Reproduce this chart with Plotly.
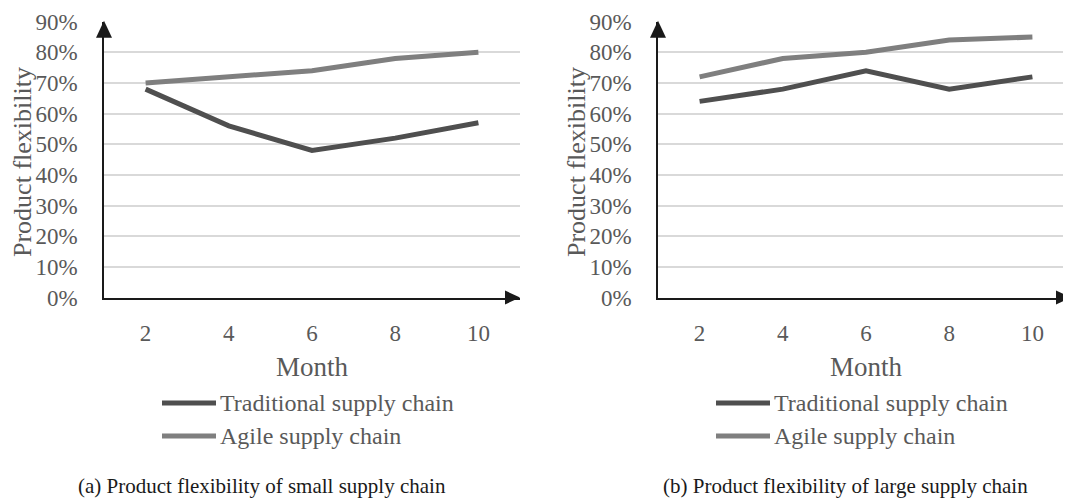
import plotly.graph_objects as go

months = ["2", "4", "6", "8", "10"]
small_traditional = [0.68, 0.56, 0.48, 0.52, 0.57]
small_agile = [0.70, 0.72, 0.74, 0.78, 0.80]
large_traditional = [0.64, 0.68, 0.74, 0.68, 0.72]
large_agile = [0.72, 0.78, 0.80, 0.84, 0.85]
series_names = ["Traditional supply chain", "Agile supply chain"]
captions = ["(a) Product flexibility of small supply chain",
            "(b) Product flexibility of large supply chain"]

# the page body has an 8px default margin; lay out in page pixels
OFF = 8
PAGE_W, PAGE_H = 1071, 499
W, H = PAGE_W - OFF, PAGE_H - OFF
def px(x): return (x - OFF) / W
def py(y): return 1 - (y - OFF) / H

C_TRAD = "#4f4f4f"
C_AGILE = "#7f7f7f"
TXT = "#595959"
FONT = "Liberation Serif"

fig = go.Figure()
panels = [
    ("x", "y", small_traditional, small_agile),
    ("x2", "y2", large_traditional, large_agile),
]
for xa, ya, trad, agile in panels:
    fig.add_trace(go.Scatter(x=months, y=trad, mode="lines", name=series_names[0],
                             line=dict(color=C_TRAD, width=5), xaxis=xa, yaxis=ya,
                             showlegend=False))
    fig.add_trace(go.Scatter(x=months, y=agile, mode="lines", name=series_names[1],
                             line=dict(color=C_AGILE, width=5), xaxis=xa, yaxis=ya,
                             showlegend=False))

y_top, y_bot = 21.7, 297.5
left_x = (104, 520)
right_x = (658, 1074)

yax = dict(range=[0, 0.9], dtick=0.1, tickformat=".0%", showgrid=True,
           gridcolor="#d9d9d9", gridwidth=1.5, zeroline=False, showline=True,
           linecolor="#1a1a1a", linewidth=1.5, ticks="", ticklabelstandoff=20,
           tickfont=dict(family=FONT, size=23, color=TXT), automargin=False,
           domain=[py(y_bot), py(y_top)], fixedrange=True)
xax = dict(type="category", range=[-0.5, 4.5], showgrid=False, zeroline=False,
           showline=True, automargin=False,
           linecolor="#1a1a1a", linewidth=1.5, ticks="", ticklabelstandoff=14,
           tickfont=dict(family=FONT, size=23, color=TXT), fixedrange=True)

cat_w = (right_x[1] - right_x[0]) / 5
fig.update_layout(
    width=W, height=H, margin=dict(l=0, r=0, t=0, b=0),
    paper_bgcolor="white", plot_bgcolor="white",
    xaxis=dict(xax, domain=[px(left_x[0]), px(left_x[1])], anchor="y"),
    yaxis=dict(yax, anchor="x"),
    xaxis2=dict(xax, domain=[px(right_x[0]), 1.0], anchor="y2",
                range=[-0.5, 4.5 - (right_x[1] - PAGE_W) / cat_w]),
    yaxis2=dict(yax, anchor="x2"),
    showlegend=False,
)

shapes = []
annotations = []
for i, (x0, x1) in enumerate([left_x, right_x]):
    # y-axis arrowhead
    shapes.append(dict(type="path", xref="paper", yref="paper",
                       path=f"M {px(x0-8)} {py(y_top+16)} L {px(x0+8)} {py(y_top+16)} L {px(x0)} {py(y_top-1)} Z",
                       fillcolor="#1a1a1a", line=dict(width=0)))
    # x-axis arrowhead
    tip = min(x1, PAGE_W)
    shapes.append(dict(type="path", xref="paper", yref="paper",
                       path=f"M {px(tip-15)} {py(y_bot-7)} L {px(tip-15)} {py(y_bot+7)} L {px(tip)} {py(y_bot)} Z",
                       fillcolor="#1a1a1a", line=dict(width=0)))

    # y title
    annotations.append(dict(text="Product flexibility", xref="paper", yref="paper",
                            x=px(x0 - 82), y=py(162), textangle=-90, showarrow=False,
                            xanchor="center", yanchor="middle",
                            font=dict(family=FONT, size=26, color=TXT)))
    # x title
    annotations.append(dict(text="Month", xref="paper", yref="paper",
                            x=px(x0 + 208), y=py(367), showarrow=False,
                            xanchor="center", yanchor="middle",
                            font=dict(family=FONT, size=27, color=TXT)))
    # legend
    lx0 = x0 + 56
    for j, (name, col, ly) in enumerate([(series_names[0], C_TRAD, 403),
                                         (series_names[1], C_AGILE, 436)]):
        shapes.append(dict(type="line", xref="paper", yref="paper",
                           x0=px(lx0 + 2), x1=px(lx0 + 56), y0=py(ly), y1=py(ly),
                           line=dict(color=col, width=5)))
        annotations.append(dict(text=name, xref="paper", yref="paper",
                                x=px(lx0 + 58), y=py(ly), showarrow=False,
                                xanchor="left", yanchor="middle",
                                font=dict(family=FONT, size=24, color=TXT)))
    # caption
    cap_x = 262 if i == 0 else 845
    annotations.append(dict(text=captions[i], xref="paper", yref="paper",
                            x=px(cap_x), y=py(486), showarrow=False,
                            xanchor="center", yanchor="middle",
                            font=dict(family=FONT, size=21, color="#1a1a1a")))

fig.update_layout(shapes=shapes, annotations=annotations)
fig.write_html("out.html")
